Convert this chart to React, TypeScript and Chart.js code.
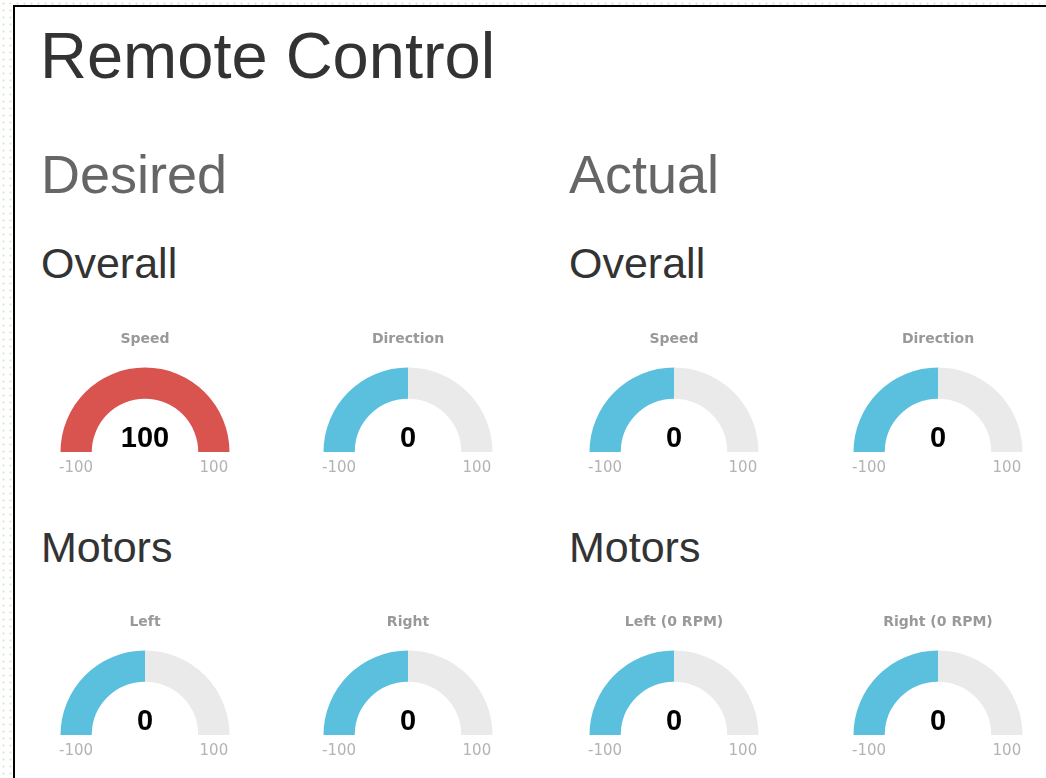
import React, { useEffect, useRef } from "react";
import { Chart, registerables } from "chart.js";

Chart.register(...registerables);

// ---- data ----
const gaugeTitles = ["Speed", "Direction", "Left", "Right", "Speed", "Direction", "Left (0 RPM)", "Right (0 RPM)"];
const gaugeValues = [100, 0, 0, 0, 0, 0, 0, 0];
const gaugeMin = -100;
const gaugeMax = 100;
const minLabel = "-100";
const maxLabel = "100";
const levelColors = ["#d9534f", "#5bc0de", "#5bc0de", "#5bc0de", "#5bc0de", "#5bc0de", "#5bc0de", "#5bc0de"];
const pageTitle = "Remote Control";
const columnTitles = ["Desired", "Actual"];
const sectionTitles = ["Overall", "Motors"];

// ---- layout ----
const colCenters = [145, 408, 674, 938];
const rowCenters = [452, 735];
const CANVAS_W = 260;
const CANVAS_H = 200;
const CENTER_IN_CANVAS = 142;
const TRACK = "#ebeaea";

function Gauge({ title, value, color, cx, cy }: { title: string; value: number; color: string; cx: number; cy: number }) {
  const ref = useRef<HTMLCanvasElement | null>(null);
  useEffect(() => {
    if (!ref.current) return;
    const textPlugin = {
      id: "gaugeText",
      afterDraw(chart: any) {
        const arc: any = chart.getDatasetMeta(0).data[0];
        if (!arc) return;
        const { x, y, outerRadius, innerRadius } = arc.getProps(["x", "y", "outerRadius", "innerRadius"], true);
        const ctx = chart.ctx;
        ctx.save();
        ctx.textAlign = "center";
        ctx.textBaseline = "alphabetic";
        ctx.fillStyle = "#999999";
        ctx.font = "bold 14px 'DejaVu Sans'";
        ctx.fillText(title, x, y - 109);
        ctx.fillStyle = "#010101";
        ctx.font = "bold 29px 'Liberation Sans', Arial";
        ctx.fillText(String(value), x, y - 5);
        ctx.fillStyle = "#b3b3b3";
        ctx.font = "15px 'DejaVu Sans'";
        const mid = (outerRadius + innerRadius) / 2;
        ctx.fillText(minLabel, x - mid, y + 20);
        ctx.fillText(maxLabel, x + mid, y + 20);
        ctx.restore();
      },
    };
    const chart = new Chart(ref.current, {
      type: "doughnut",
      data: {
        labels: ["value", "rest"],
        datasets: [
          {
            data: [value - gaugeMin, gaugeMax - value],
            backgroundColor: [color, TRACK],
            borderWidth: 0,
            hoverOffset: 0,
          },
        ],
      },
      options: {
        animation: false,
        responsive: false,
        maintainAspectRatio: false,
        rotation: -90,
        circumference: 180,
        cutout: "63%",
        radius: 84.5,
        layout: { padding: { top: 0, bottom: 0.5, left: 0, right: 0 } },
        events: [],
        plugins: {
          legend: { display: false },
          tooltip: { enabled: false },
          title: { display: false },
        },
      } as any,
      plugins: [textPlugin],
    });
    return () => chart.destroy();
  }, [title, value, color]);
  return (
    <canvas
      ref={ref}
      width={CANVAS_W}
      height={CANVAS_H}
      style={{
        position: "absolute",
        left: cx - CANVAS_W / 2,
        top: cy - CENTER_IN_CANVAS,
        width: CANVAS_W,
        height: CANVAS_H,
      }}
    />
  );
}

const font = "'Liberation Sans', Arial, Helvetica, sans-serif";

function Heading({ text, size, color, x, baseline }: { text: string; size: number; color: string; x: number; baseline: number }) {
  const top = baseline - size * 0.8465;
  return (
    <div
      style={{
        position: "absolute",
        left: x,
        top,
        fontFamily: font,
        fontSize: size,
        lineHeight: `${size}px`,
        color,
        whiteSpace: "nowrap",
        fontWeight: "normal",
      }}
    >
      {text}
    </div>
  );
}

export default function App() {
  const gauges = gaugeTitles.map((t, i) => {
    const col = (i % 2) + (i >= 4 ? 2 : 0);
    const row = Math.floor((i % 4) / 2);
    return (
      <Gauge key={i} title={t} value={gaugeValues[i]} color={levelColors[i]} cx={colCenters[col]} cy={rowCenters[row]} />
    );
  });
  return (
    <div
      style={{
        position: "absolute",
        left: 0,
        top: 0,
        width: 1046,
        height: 778,
        overflow: "hidden",
        background: "#ffffff",
        backgroundImage: "radial-gradient(circle, #dcecd5 0.9px, rgba(255,255,255,0) 1.3px)",
        backgroundSize: "7px 7px",
      }}
    >
      <div
        style={{
          position: "absolute",
          left: 13,
          top: 5,
          width: 1200,
          height: 900,
          border: "2px solid #000",
          background: "#fff",
        }}
      />
      <Heading text={pageTitle} size={65} color="#333333" x={40} baseline={78} />
      <Heading text={columnTitles[0]} size={54} color="#666666" x={41} baseline={193} />
      <Heading text={columnTitles[1]} size={54} color="#666666" x={569} baseline={193} />
      <Heading text={sectionTitles[0]} size={43} color="#333333" x={41} baseline={278} />
      <Heading text={sectionTitles[0]} size={43} color="#333333" x={569} baseline={278} />
      <Heading text={sectionTitles[1]} size={43} color="#333333" x={41} baseline={562} />
      <Heading text={sectionTitles[1]} size={43} color="#333333" x={569} baseline={562} />
      {gauges}
    </div>
  );
}
